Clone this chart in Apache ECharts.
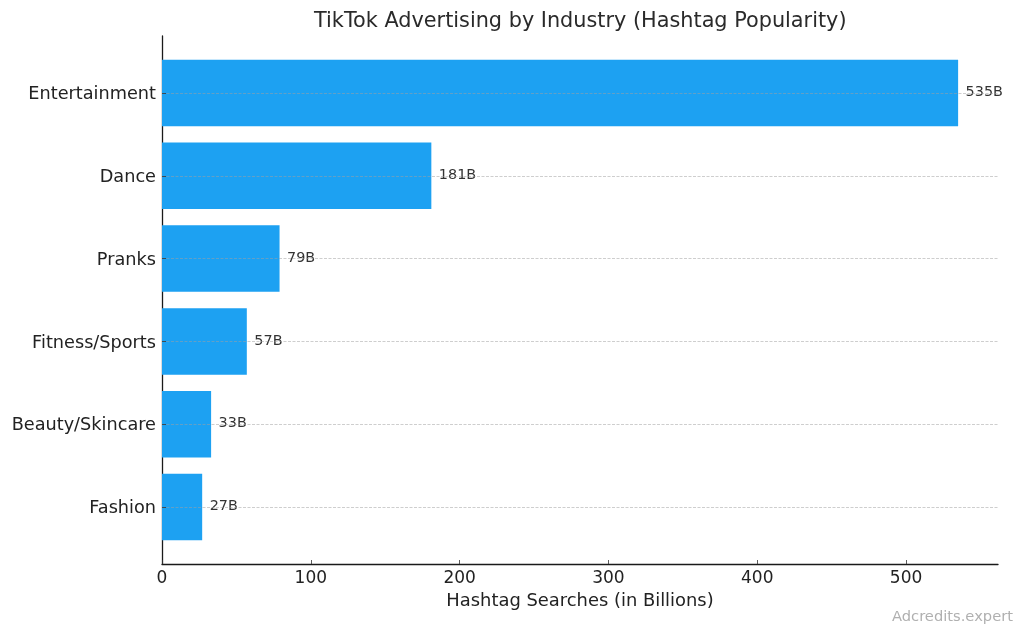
<!DOCTYPE html>
<html><head><meta charset="utf-8">
<style>html,body{margin:0;padding:0;background:#fff}#c{width:1024px;height:636px}</style>
<script src="https://cdn.jsdelivr.net/npm/echarts@6/dist/echarts.min.js"></script>
</head><body><div id="c"></div>
<script>
const categories = ['Entertainment','Dance','Pranks','Fitness/Sports','Beauty/Skincare','Fashion'];
const searches = [535,181,79,57,33,27];
const valueLabels = ['535B','181B','79B','57B','33B','27B'];
const font = 'DejaVu Sans';
const chart = echarts.init(document.getElementById('c'),null,{renderer:'canvas'});
const xMax = 561.8;
chart.setOption({
  animation:false,
  backgroundColor:'#fff',
  title:[
    {text:'TikTok Advertising by Industry (Hashtag Popularity)',left:314,top:6,padding:[5,0,5,0],
     textStyle:{fontFamily:font,fontSize:20.8,fontWeight:'normal',color:'#2a2a2a'}},
    {text:'Adcredits.expert',right:11,top:605,padding:[5,0,5,0],
     textStyle:{fontFamily:font,fontSize:14.7,fontWeight:'normal',color:'#b0b0b0'}}
  ],
  grid:[
    {left:162,width:836,top:93,height:414},
    {left:162,width:836,top:36,height:528}
  ],
  xAxis:[
    {gridIndex:0,type:'value',min:0,max:xMax,show:false},
    {gridIndex:1,type:'value',min:0,max:xMax,interval:100,
     name:'Hashtag Searches (in Billions)',nameLocation:'middle',nameGap:28,
     nameTextStyle:{fontFamily:font,fontSize:17.9,color:'#222'},
     axisLine:{show:true,lineStyle:{color:'#1a1a1a',width:1.3}},
     axisTick:{show:true,inside:true,length:4,lineStyle:{color:'#333',width:0.8}},
     axisLabel:{fontFamily:font,fontSize:17,color:'#222',margin:6,showMaxLabel:false},
     splitLine:{show:false}}
  ],
  yAxis:[
    {gridIndex:0,type:'category',data:categories,inverse:true,boundaryGap:false,z:5,
     axisLine:{show:false},
     axisTick:{show:true,inside:true,length:4,lineStyle:{color:'#333',width:0.8}},
     axisLabel:{fontFamily:font,fontSize:17.7,color:'#222',margin:6,verticalAlign:'top',lineHeight:3},
     splitLine:{show:true,lineStyle:{color:'rgba(160,160,160,0.65)',type:[3,1.5],width:0.8}}},
    {gridIndex:1,type:'value',min:0,max:1,
     axisLine:{show:true,lineStyle:{color:'#1a1a1a',width:1.3}},
     axisTick:{show:false},axisLabel:{show:false},splitLine:{show:false}}
  ],
  series:[{
    type:'bar',xAxisIndex:0,yAxisIndex:0,data:searches,barWidth:66.5,clip:false,
    itemStyle:{color:'#1DA1F2'},
    label:{show:true,position:'right',distance:7.5,fontFamily:font,fontSize:14.4,color:'#333',
      backgroundColor:'#fff',offset:[0,-0.5],
      formatter:p=>valueLabels[p.dataIndex]}
  }]
});
</script></body></html>
